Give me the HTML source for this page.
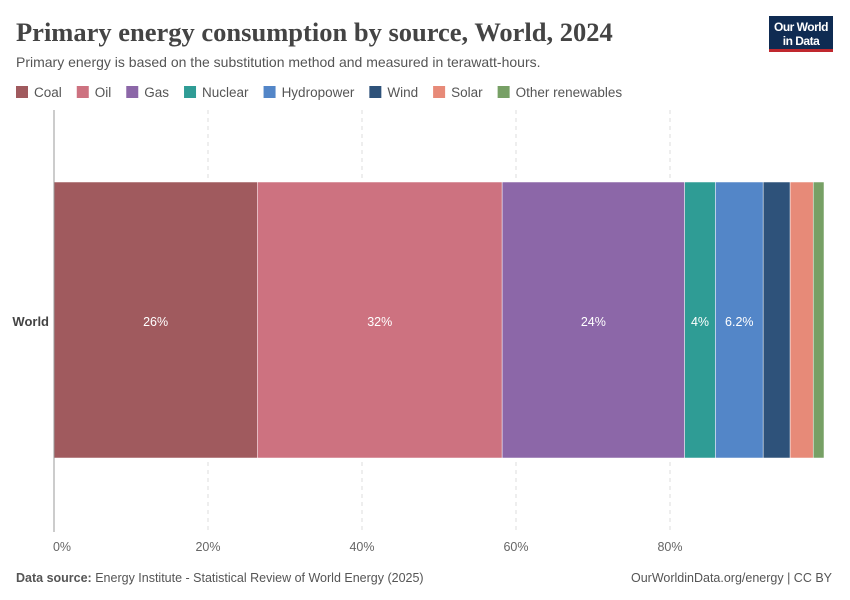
<!DOCTYPE html>
<html><head><meta charset="utf-8"><style>
body{margin:0;background:#fff;font-family:"Liberation Sans",sans-serif;}
#wrap{position:relative;width:850px;height:600px;overflow:hidden;}
</style></head><body>
<div id="wrap">
<svg id="svg" width="850" height="600" xmlns="http://www.w3.org/2000/svg">
<text x="16" y="41" font-family="Liberation Serif, serif" font-size="26.5" fill="#444" font-weight="bold">Primary energy consumption by source, World, 2024</text>
<text x="16" y="67" font-size="14" fill="#555">Primary energy is based on the substitution method and measured in terawatt-hours.</text>
<g>
<rect x="769" y="16" width="64" height="34" fill="#0f2b52"/>
<rect x="769" y="49" width="64" height="3" fill="#c0282e"/>
<text x="801" y="31" font-size="12" font-weight="bold" fill="#fff" text-anchor="middle" letter-spacing="-0.5">Our World</text>
<text x="801" y="45" font-size="12" font-weight="bold" fill="#fff" text-anchor="middle" letter-spacing="-0.5">in Data</text>
</g>
<g id="legend"></g>
<g id="grid"></g>
<g id="bars"></g>
<line x1="54" y1="110" x2="54" y2="532" stroke="#999" stroke-width="1"/>
<text x="49" y="326" font-size="13" fill="#444" font-weight="bold" text-anchor="end">World</text>
<text x="16" y="582" font-size="12.5" fill="#555"><tspan font-weight="bold">Data source:</tspan> Energy Institute - Statistical Review of World Energy (2025)</text>
<text x="832" y="582" font-size="12.5" fill="#555" text-anchor="end">OurWorldinData.org/energy | CC BY</text>
</svg>
</div>
<script>
const categories=["Coal","Oil","Gas","Nuclear","Hydropower","Wind","Solar","Other renewables"];
const values=[26.4,31.8,23.7,4.0,6.2,3.5,3.0,1.4];
const colors=["#a05a5e","#cd7280","#8c67a8","#2f9c95","#5386c8","#2e527a","#e78a78","#77a065"];
const tickValues=[0,20,40,60,80];
const tickLabels=["0%","20%","40%","60%","80%"];
const NS="http://www.w3.org/2000/svg";
const x0=54,pxPer=7.7,barTop=182,barH=276;
const xs=v=>x0+v*pxPer;
function mk(tag,attrs,parent,txt){const e=document.createElementNS(NS,tag);for(const k in attrs)e.setAttribute(k,attrs[k]);if(txt!=null)e.textContent=txt;parent.appendChild(e);return e;}
const grid=document.getElementById('grid');
tickValues.forEach((t,i)=>{
  if(t>0){const l=mk('line',{x1:xs(t),x2:xs(t),y1:110,y2:532,stroke:'#ddd','stroke-dasharray':'4,4'},grid);
  
  }
  const tx=mk('text',{x:xs(t)+(t===0?8:0),y:551,'font-size':12.5,fill:'#666','text-anchor':'middle'},grid,tickLabels[i]);
  
  
});
const bars=document.getElementById('bars');
let cum=0;
values.forEach((v,i)=>{
  const r=mk('rect',{x:xs(cum),y:barTop,width:v*pxPer,height:barH,fill:colors[i],stroke:'#fff','stroke-width':0.5},bars);
  
  
  if(v>=3.9){
    const lbl=(v>=10?Math.round(v):(Math.round(v*10)/10))+'%';
    const t=mk('text',{x:xs(cum+v/2),y:326,'font-size':12.5,fill:'#fff','text-anchor':'middle'},bars,lbl);
    
    
  }
  cum+=v;
});
const legend=document.getElementById('legend');
let lx=16;
categories.forEach((c,i)=>{
  const g=mk('g',{},legend);
  
  
  mk('rect',{x:lx,y:86,width:12,height:12,fill:colors[i]},g);
  const t=mk('text',{x:lx+18,y:97,'font-size':13.5,fill:'#555'},g,c);
  lx+=18+t.getComputedTextLength()+15;
});
</script>
</body></html>
